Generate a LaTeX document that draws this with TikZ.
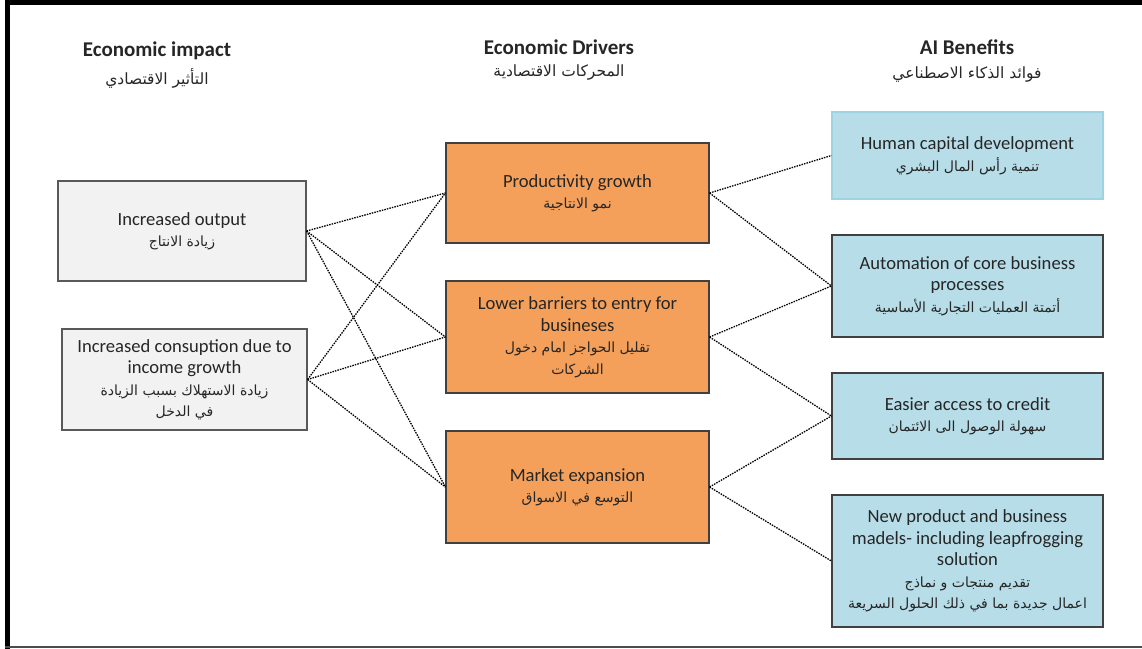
\documentclass[tikz,border=0pt]{standalone}
\usepackage{fontspec}
\setmainfont{Carlito}
\newfontfamily\arabicfont[Script=Arabic]{DejaVu Sans}
\TeXXeTstate=1
\newcommand\arline[1]{{\arabicfont\fontsize{14}{21.5}\selectfont\beginR #1\endR}}
\newcommand\arhead[1]{{\arabicfont\fontsize{15.5}{22}\selectfont\beginR #1\endR}}
\definecolor{impactgray}{HTML}{F2F2F2}
\definecolor{driverorange}{HTML}{F5A05A}
\definecolor{benefitblue}{HTML}{B7DDE8}
\definecolor{lightedge}{HTML}{9ED3E3}
\definecolor{boxedge}{HTML}{404040}
\begin{document}
\begin{tikzpicture}[x=1pt,y=-1pt,
    every node/.style={align=center,text=black!85,font=\fontsize{18.6}{21.5}\selectfont},
    heading/.style={font=\bfseries\fontsize{21}{24}\selectfont},
    box/.style={draw=boxedge,line width=1.2pt,inner sep=0pt},
    impact/.style={box,fill=impactgray,draw=black!65},
    driver/.style={box,fill=driverorange},
    benefit/.style={box,fill=benefitblue}]
  \useasboundingbox (0,0) rectangle (1142,648);
  \draw[line width=5pt] (7.5,1150) -- (7.5,2.5) -- (1150,2.5);
  \draw[line width=1.5pt,black!70] (5,647) -- (1150,647);
  \draw
    (157,51) node[heading] (h1){Economic impact}
    (157,78) node (s1){\arhead{التأثير الاقتصادي}}
    (559,47) node[heading] (h2){Economic Drivers}
    (559,73) node (s2){\arhead{المحركات الاقتصادية}}
    (967,47) node[heading] (h3){AI Benefits}
    (967,75) node (s3){\arhead{فوائد الذكاء الاصطناعي}};
  \draw
    (182,231) node[impact,minimum width=248,minimum height=100] (e1)
      {Increased output\\\arline{زيادة الانتاج}}
    (184.5,379.5) node[impact,minimum width=245,minimum height=101] (e2)
      {Increased consuption due to\\income growth\\\arline{زيادة الاستهلاك بسبب الزيادة}\\\arline{في الدخل}}
    (577.5,193) node[driver,minimum width=263,minimum height=100] (d1)
      {Productivity growth\\\arline{نمو الانتاجية}}
    (577.5,337) node[driver,minimum width=263,minimum height=112] (d2)
      {Lower barriers to entry for\\busineses\\\arline{تقليل الحواجز امام دخول}\\\arline{الشركات}}
    (577.5,487) node[driver,minimum width=263,minimum height=112] (d3)
      {Market expansion\\\arline{التوسع في الاسواق}}
    (967.5,155.5) node[benefit,draw=lightedge,minimum width=271,minimum height=87] (a1)
      {Human capital development\\\arline{تنمية رأس المال البشري}}
    (967.5,286) node[benefit,minimum width=271,minimum height=102] (a2)
      {Automation of core business\\processes\\\arline{أتمتة العمليات التجارية الأساسية}}
    (967.5,416) node[benefit,minimum width=271,minimum height=86] (a3)
      {Easier access to credit\\\arline{سهولة الوصول الى الائتمان}}
    (967.5,561) node[benefit,minimum width=271,minimum height=132] (a4)
      {New product and business\\madels- including leapfrogging\\solution\\\arline{تقديم منتجات و نماذج}\\\arline{اعمال جديدة بما في ذلك الحلول السريعة}};
  \begin{scope}[black,line width=1.3pt,dash pattern=on 1.5pt off 1.1pt]
    \draw (e1.east) to (d1.west);
    \draw (e1.east) to (d2.west);
    \draw (e1.east) to (d3.west);
    \draw (e2.east) to (d1.west);
    \draw (e2.east) to (d2.west);
    \draw (e2.east) to (d3.west);
    \draw (d1.east) to (a1.west);
    \draw (d1.east) to (a2.west);
    \draw (d2.east) to (a2.west);
    \draw (d2.east) to (a3.west);
    \draw (d3.east) to (a3.west);
    \draw (d3.east) to (a4.west);
  \end{scope}
\end{tikzpicture}
\end{document}
